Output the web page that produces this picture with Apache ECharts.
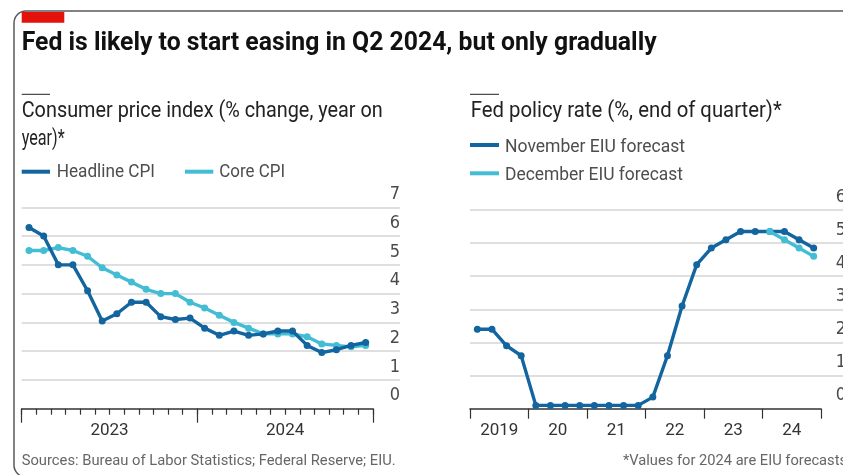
<!DOCTYPE html>
<html>
<head>
<meta charset="utf-8">
<script src="https://cdn.jsdelivr.net/npm/echarts@6/dist/echarts.min.js"></script>
<style>
html,body{margin:0;padding:0;background:#ffffff;}
#chart{width:843px;height:475px;}
</style>
</head>
<body>
<div id="chart"></div>
<script>
// ---------- DATA ----------
const cpiMonths = ['Jan 2023','Feb 2023','Mar 2023','Apr 2023','May 2023','Jun 2023','Jul 2023','Aug 2023','Sep 2023','Oct 2023','Nov 2023','Dec 2023',
                   'Jan 2024','Feb 2024','Mar 2024','Apr 2024','May 2024','Jun 2024','Jul 2024','Aug 2024','Sep 2024','Oct 2024','Nov 2024','Dec 2024'];
const headlineCPI = [6.3, 6.0, 5.0, 5.0, 4.1, 3.05, 3.3, 3.7, 3.7, 3.2, 3.1, 3.15,
                     2.8, 2.55, 2.7, 2.55, 2.6, 2.7, 2.7, 2.2, 1.95, 2.05, 2.2, 2.3];
const coreCPI = [5.5, 5.5, 5.6, 5.5, 5.3, 4.9, 4.65, 4.4, 4.15, 4.0, 4.0, 3.7,
                 3.5, 3.25, 3.0, 2.8, 2.6, 2.6, 2.6, 2.5, 2.25, 2.2, 2.15, 2.2];
const cpiYears = ['2023', '2024'];

const rateQuarters = ['2019 Q1','2019 Q2','2019 Q3','2019 Q4','2020 Q1','2020 Q2','2020 Q3','2020 Q4',
                      '2021 Q1','2021 Q2','2021 Q3','2021 Q4','2022 Q1','2022 Q2','2022 Q3','2022 Q4',
                      '2023 Q1','2023 Q2','2023 Q3','2023 Q4','2024 Q1','2024 Q2','2024 Q3','2024 Q4'];
const novemberForecast = [2.4, 2.4, 1.9, 1.6, 0.1, 0.1, 0.1, 0.1, 0.1, 0.1, 0.1, 0.1,
                          0.35, 1.6, 3.1, 4.35, 4.85, 5.1, 5.35, 5.35, 5.35, 5.35, 5.1, 4.85];
const decemberForecast = [null, null, null, null, null, null, null, null, null, null, null, null,
                          null, null, null, null, null, null, null, null, 5.35, 5.1, 4.85, 4.6];
const rateYears = ['2019', '20', '21', '22', '23', '24'];

const cpiAxisMax = 7;
const rateAxisMax = 6;

// ---------- STYLE ----------
const DARK = '#12659f';
const LIGHT = '#43bdd3';
const GRID_GREY = '#d4d4d4';
const AXIS_DARK = '#333333';
const FAMILY = 'Roboto';
const LABEL_FAMILY = "'Liberation Sans Narrow', 'DejaVu Sans Condensed', Roboto, sans-serif";

const mctx = document.createElement('canvas').getContext('2d');
function fittedText(text, x, baseline, size, weight, targetW, color) {
  const font = weight + ' ' + size + 'px ' + FAMILY;
  mctx.font = font;
  const w = mctx.measureText(text).width;
  return {
    type: 'text', x: x, y: baseline - 0.34 * size, scaleX: targetW / w, silent: true,
    style: { text: text, font: font, fill: color, align: 'left', verticalAlign: 'middle',
             textAlign: 'left', textVerticalAlign: 'middle' }
  };
}
function hLine(x1, x2, y, color, width) {
  return { type: 'line', silent: true, shape: { x1: x1, y1: y, x2: x2, y2: y },
           style: { stroke: color, lineWidth: width, lineCap: 'butt' } };
}
function splitColors(n) {
  const arr = ['rgba(0,0,0,0)'];
  for (let i = 1; i <= n; i++) arr.push(GRID_GREY);
  return arr;
}

const yLabelStyle = {
  inside: true, margin: 0, verticalAlign: 'bottom', lineHeight: 26,
  fontSize: 18, color: '#4a4a4a', fontFamily: LABEL_FAMILY
};
const xLabelStyle = { fontSize: 17, color: '#333', fontFamily: FAMILY, margin: 14 };

const chart = echarts.init(document.getElementById('chart'), null, { renderer: 'canvas' });

const option = {
  backgroundColor: '#ffffff',
  animation: false,
  grid: [
    { left: 21.7, top: 207.3, width: 378.3, height: 201.4, containLabel: false, outerBoundsMode: 'none' },
    { left: 21.7, top: 207.3, width: 351.3, height: 201.4, containLabel: false, outerBoundsMode: 'none' },
    { left: 470, top: 210, width: 376, height: 198.7, containLabel: false, outerBoundsMode: 'none' },
    { left: 470, top: 210, width: 351, height: 198.7, containLabel: false, outerBoundsMode: 'none' }
  ],
  xAxis: [
    { gridIndex: 0, type: 'value', min: 0, max: 1, show: false },
    { gridIndex: 1, type: 'category', data: cpiMonths, position: 'bottom', boundaryGap: true,
      axisLine: { onZero: false, lineStyle: { color: AXIS_DARK, width: 1.5 } },
      axisTick: { show: true, interval: 0, length: 6, lineStyle: { color: AXIS_DARK, width: 1.2 } },
      axisLabel: { show: false }, splitLine: { show: false } },
    { gridIndex: 1, type: 'category', data: cpiYears, position: 'bottom', boundaryGap: true,
      axisLine: { show: false, onZero: false },
      axisTick: { show: true, interval: 0, length: 14, lineStyle: { color: AXIS_DARK, width: 1.2 } },
      axisLabel: Object.assign({ interval: 0 }, xLabelStyle), splitLine: { show: false } },
    { gridIndex: 2, type: 'value', min: 0, max: 1, show: false },
    { gridIndex: 3, type: 'category', data: rateQuarters, position: 'bottom', boundaryGap: true,
      axisLine: { onZero: false, lineStyle: { color: AXIS_DARK, width: 1.5 } },
      axisTick: { show: false }, axisLabel: { show: false }, splitLine: { show: false } },
    { gridIndex: 3, type: 'category', data: rateYears, position: 'bottom', boundaryGap: true,
      axisLine: { show: false, onZero: false },
      axisTick: { show: true, interval: 0, length: 10, lineStyle: { color: AXIS_DARK, width: 1.2 } },
      axisLabel: Object.assign({ interval: 0 }, xLabelStyle), splitLine: { show: false } }
  ],
  yAxis: [
    { gridIndex: 0, type: 'value', min: 0, max: cpiAxisMax, interval: 1, position: 'right',
      axisLine: { show: false }, axisTick: { show: false },
      splitLine: { show: true, lineStyle: { color: splitColors(cpiAxisMax), width: 1.5 } },
      axisLabel: yLabelStyle },
    { gridIndex: 1, type: 'value', min: 0, max: cpiAxisMax, interval: 1, show: false, splitLine: { show: false } },
    { gridIndex: 2, type: 'value', min: 0, max: rateAxisMax, interval: 1, position: 'right',
      axisLine: { show: false }, axisTick: { show: false },
      splitLine: { show: true, lineStyle: { color: splitColors(rateAxisMax), width: 1.5 } },
      axisLabel: yLabelStyle },
    { gridIndex: 3, type: 'value', min: 0, max: rateAxisMax, interval: 1, show: false, splitLine: { show: false } }
  ],
  series: [
    { name: 'Core CPI', type: 'line', xAxisIndex: 1, yAxisIndex: 1, data: coreCPI,
      symbol: 'circle', symbolSize: 7, showSymbol: true,
      lineStyle: { color: LIGHT, width: 3.4 }, itemStyle: { color: LIGHT }, z: 2 },
    { name: 'Headline CPI', type: 'line', xAxisIndex: 1, yAxisIndex: 1, data: headlineCPI,
      symbol: 'circle', symbolSize: 7, showSymbol: true,
      lineStyle: { color: DARK, width: 3.4 }, itemStyle: { color: DARK }, z: 3 },
    { name: 'November EIU forecast', type: 'line', xAxisIndex: 4, yAxisIndex: 3, data: novemberForecast,
      symbol: 'circle', symbolSize: 7, showSymbol: true,
      lineStyle: { color: DARK, width: 3.4 }, itemStyle: { color: DARK }, z: 2 },
    { name: 'December EIU forecast', type: 'line', xAxisIndex: 4, yAxisIndex: 3, data: decemberForecast,
      symbol: 'circle', symbolSize: 7, showSymbol: true, connectNulls: false,
      lineStyle: { color: LIGHT, width: 3.4 }, itemStyle: { color: LIGHT }, z: 3 }
  ],
  graphic: [
    // frame
    { type: 'rect', silent: true, shape: { x: 14, y: 11, width: 842, height: 466, r: 12 },
      style: { fill: 'none', stroke: '#595959', lineWidth: 1.5 } },
    // red tag
    { type: 'rect', silent: true, shape: { x: 21.7, y: 12, width: 42.6, height: 10.7 },
      style: { fill: '#e3120b' } },
    fittedText('Fed is likely to start easing in Q2 2024, but only gradually', 21.7, 52.3, 26, 'bold', 635, '#111111'),
    // left panel heading
    hLine(21.7, 50, 94.3, '#222', 1),
    fittedText('Consumer price index (% change, year on', 21.7, 119.3, 21.5, 'normal', 361, '#222222'),
    fittedText('year)*', 21.7, 146.7, 21.5, 'normal', 43, '#222222'),
    hLine(21.7, 50, 171.7, DARK, 4),
    fittedText('Headline CPI', 56.7, 179, 18.5, 'normal', 98.3, '#4d4d4d'),
    hLine(185, 213.3, 171.7, LIGHT, 4),
    fittedText('Core CPI', 219.3, 179, 18.5, 'normal', 65.7, '#4d4d4d'),
    // right panel heading
    hLine(470, 499, 94.3, '#222', 1),
    fittedText('Fed policy rate (%, end of quarter)*', 470.7, 119.3, 21.5, 'normal', 311, '#222222'),
    hLine(470, 499, 145, DARK, 4),
    fittedText('November EIU forecast', 505, 153.3, 18.5, 'normal', 180, '#4d4d4d'),
    hLine(470, 499, 173.3, LIGHT, 4),
    fittedText('December EIU forecast', 505, 181.7, 18.5, 'normal', 178, '#4d4d4d'),
    // footer
    fittedText('Sources: Bureau of Labor Statistics; Federal Reserve; EIU.', 21.7, 466, 14, 'normal', 374, '#666666'),
    fittedText('*Values for 2024 are EIU forecasts', 623, 466, 14, 'normal', 224, '#666666')
  ]
};
chart.setOption(option);
</script>
</body>
</html>
